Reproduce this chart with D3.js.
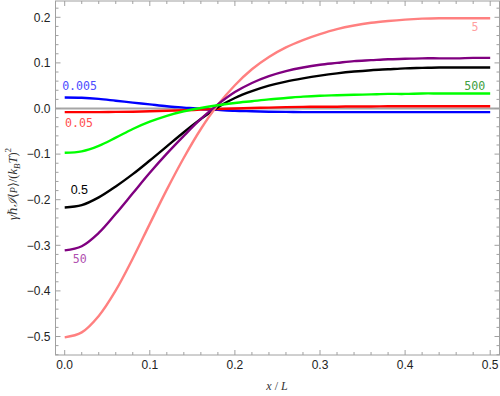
<!DOCTYPE html>
<meta charset="utf-8">
<script src="https://cdn.jsdelivr.net/npm/d3@7"></script>
<style>
  body { margin: 0; background: #fff; }
  text { font-family: "Liberation Sans", Arial, sans-serif; }
</style>
<body>
<script>

// x grid shared by all curves
var xs = [0, 0.02, 0.04, 0.06, 0.08, 0.10, 0.12, 0.14, 0.16, 0.18, 0.20, 0.22, 0.24,
          0.26, 0.28, 0.30, 0.32, 0.34, 0.36, 0.38, 0.40, 0.42, 0.44, 0.46, 0.48, 0.50];

// one array per parameter value
var y0005 = [0.024, 0.0235, 0.021, 0.017, 0.013, 0.009, 0.005, 0.002, -0.001, -0.003, -0.005, -0.006, -0.007,
             -0.0075, -0.008, -0.008, -0.008, -0.008, -0.008, -0.008, -0.008, -0.008, -0.008, -0.008, -0.008, -0.008];
var y005  = [-0.008, -0.008, -0.008, -0.0075, -0.007, -0.006, -0.005, -0.004, -0.0025, -0.001, 0.000, 0.001, 0.002,
             0.003, 0.0035, 0.004, 0.004, 0.0045, 0.0045, 0.005, 0.005, 0.005, 0.005, 0.005, 0.005, 0.005];
var y05   = [-0.217, -0.212, -0.195, -0.171, -0.144, -0.114, -0.083, -0.052, -0.023, 0.003, 0.023, 0.038, 0.050,
             0.059, 0.066, 0.072, 0.077, 0.081, 0.084, 0.086, 0.088, 0.089, 0.090, 0.090, 0.090, 0.090];
var y5    = [-0.502, -0.491, -0.455, -0.399, -0.329, -0.253, -0.178, -0.108, -0.045, 0.008, 0.051, 0.086, 0.113,
             0.134, 0.150, 0.163, 0.174, 0.182, 0.188, 0.192, 0.195, 0.197, 0.198, 0.198, 0.198, 0.198];
var y50   = [-0.311, -0.302, -0.273, -0.231, -0.186, -0.141, -0.099, -0.060, -0.023, 0.009, 0.036, 0.056, 0.071,
             0.082, 0.090, 0.096, 0.100, 0.104, 0.106, 0.108, 0.109, 0.110, 0.110, 0.110, 0.111, 0.111];
var y500  = [-0.097, -0.094, -0.082, -0.064, -0.045, -0.029, -0.016, -0.006, 0.001, 0.007, 0.012, 0.016, 0.020,
             0.023, 0.026, 0.028, 0.029, 0.030, 0.031, 0.032, 0.032, 0.033, 0.033, 0.033, 0.033, 0.033];

var xTicks = [0, 0.1, 0.2, 0.3, 0.4, 0.5];
var yTicks = [0.2, 0.1, 0, -0.1, -0.2, -0.3, -0.4, -0.5];

var series = [
  {name: "0.005", vals: y0005, color: "#0000ff", lab: "#4d4dff", lx: -0.003, ly: 0.0405, mono: true},
  {name: "0.05",  vals: y005,  color: "#ff0000", lab: "#ff5050", lx: 0.0004, ly: -0.0400, mono: true},
  {name: "0.5",   vals: y05,   color: "#000000", lab: "#000000", lx: 0.007,  ly: -0.1880, mono: false},
  {name: "5",     vals: y5,    color: "#ff8080", lab: "#ffa0a0", lx: 0.478,  ly: 0.1705,  mono: true},
  {name: "50",    vals: y50,   color: "#800080", lab: "#b050b0", lx: 0.0095, ly: -0.339,  mono: true},
  {name: "500",   vals: y500,  color: "#00ff00", lab: "#40a040", lx: 0.4695, ly: 0.0405,  mono: true}
];

var W = 500, H = 396;
var frame = {left: 55.5, right: 499.5, top: 1, bottom: 355};

var x = d3.scaleLinear().domain([0, 0.5]).range([64.7, 490.2]);
var y = d3.scaleLinear().domain([-0.5, 0.2]).range([336.5, 17.3]);

var svg = d3.select("body").append("svg")
    .attr("width", W)
    .attr("height", H);

var frameColor = "#a0a0a0";

// zero line
svg.append("line")
  .attr("x1", frame.left).attr("x2", frame.right)
  .attr("y1", y(0)).attr("y2", y(0))
  .attr("stroke", "#a6a6a6")
  .attr("stroke-width", 2);

// curves
var line = d3.line()
  .x(function(d, i) { return x(xs[i]); })
  .y(function(d) { return y(d); })
  .curve(d3.curveCatmullRom.alpha(0.5));

svg.selectAll(".curve")
    .data(series)
  .enter().append("path")
    .attr("class", "curve")
    .attr("d", function(d) { return line(d.vals); })
    .attr("fill", "none")
    .attr("stroke", function(d) { return d.color; })
    .attr("stroke-width", 2.4);

// curve labels
svg.selectAll(".clabel")
    .data(series)
  .enter().append("text")
    .attr("class", "clabel")
    .attr("x", function(d) { return x(d.lx); })
    .attr("y", function(d) { return y(d.ly); })
    .style("font-family", function(d) { return d.mono ? "'DejaVu Sans Mono', monospace" : "'Liberation Sans', Arial, sans-serif"; })
    .style("font-size", function(d) { return d.mono ? "11.6px" : "12.5px"; })
    .attr("fill", function(d) { return d.lab; })
    .text(function(d) { return d.name; });

// frame with ticks on all sides
var fmt = function(v) { return d3.format(".1f")(v).replace("-", "\u2212"); };

var minorX = d3.range(0, 0.5001, 0.02);
var minorY = d3.range(-0.54, 0.2401, 0.02).filter(function(v) { return y(v) >= frame.top && y(v) <= frame.bottom; });

var gAxes = svg.append("g").attr("stroke", frameColor).attr("stroke-width", 1);

minorX.forEach(function(v) {
  var major = Math.abs(v * 10 - Math.round(v * 10)) < 1e-6;
  var len = major ? 5 : 3;
  gAxes.append("line").attr("x1", x(v)).attr("x2", x(v)).attr("y1", frame.bottom).attr("y2", frame.bottom - len);
  gAxes.append("line").attr("x1", x(v)).attr("x2", x(v)).attr("y1", frame.top).attr("y2", frame.top + len);
});
minorY.forEach(function(v) {
  var major = Math.abs(v * 10 - Math.round(v * 10)) < 1e-6;
  var len = major ? 5 : 3;
  gAxes.append("line").attr("y1", y(v)).attr("y2", y(v)).attr("x1", frame.left).attr("x2", frame.left + len);
  gAxes.append("line").attr("y1", y(v)).attr("y2", y(v)).attr("x1", frame.right).attr("x2", frame.right - len);
});

svg.append("rect")
  .attr("x", frame.left).attr("y", frame.top)
  .attr("width", frame.right - frame.left).attr("height", frame.bottom - frame.top)
  .attr("fill", "none")
  .attr("stroke", frameColor)
  .attr("stroke-width", 1);

svg.selectAll(".xt")
    .data(xTicks)
  .enter().append("text")
    .attr("x", function(d) { return x(d); })
    .attr("y", 368.5)
    .attr("text-anchor", "middle")
    .style("font-size", "12px")
    .attr("fill", "#222")
    .text(fmt);

svg.selectAll(".yt")
    .data(yTicks)
  .enter().append("text")
    .attr("x", 50.5)
    .attr("y", function(d) { return y(d) + 4.2; })
    .attr("text-anchor", "end")
    .style("font-size", "12px")
    .attr("fill", "#222")
    .text(fmt);

// x axis label
var xl = svg.append("text")
  .attr("x", 277)
  .attr("y", 390)
  .attr("text-anchor", "middle")
  .style("font-family", "'Liberation Serif', 'DejaVu Serif', serif")
  .style("font-size", "12px")
  .attr("fill", "#333");
xl.append("tspan").style("font-style", "italic").text("x");
xl.append("tspan").text(" / ");
xl.append("tspan").style("font-style", "italic").text("L");

// y axis label
var yl = svg.append("text")
  .attr("transform", "translate(16.5,184) rotate(-90)")
  .attr("text-anchor", "middle")
  .style("font-family", "'Liberation Serif', 'DejaVu Serif', serif")
  .style("font-size", "12.5px")
  .attr("fill", "#333");
yl.append("tspan").style("font-style", "italic").text("\u03b3\u210f");
yl.append("tspan").style("font-style", "italic").text("\u2110");
yl.append("tspan").text("\u27e8");
yl.append("tspan").style("font-style", "italic").style("font-size", "10px").text("P");
yl.append("tspan").text("\u27e9/(");
yl.append("tspan").style("font-style", "italic").text("k");
yl.append("tspan").style("font-style", "italic").style("font-size", "9px").attr("dy", 3).text("B");
yl.append("tspan").style("font-style", "italic").attr("dy", -3).text("T");
yl.append("tspan").text(")");
yl.append("tspan").style("font-size", "9px").attr("dy", -6).text("2");

</script>
</body>
</html>
